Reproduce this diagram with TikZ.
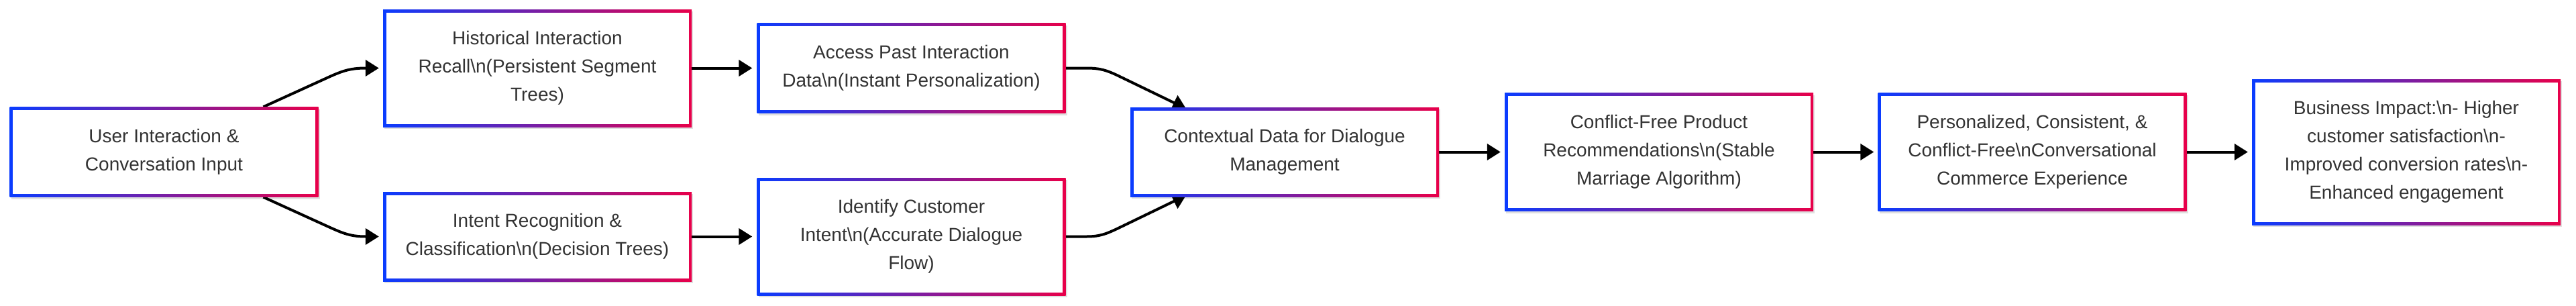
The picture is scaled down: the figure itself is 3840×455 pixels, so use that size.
\documentclass[tikz,border=0pt]{standalone}
\usepackage{fontspec}
\setmainfont{Liberation Sans}
\usetikzlibrary{arrows.meta,shadows}
\definecolor{gblue}{HTML}{0A3CFF}
\definecolor{gred}{HTML}{E8004A}
\definecolor{txtgray}{HTML}{333333}
\pgfdeclarelayer{back}
\pgfdeclarelayer{bg}
\pgfsetlayers{back,bg,main}
\tikzset{
  gbox/.style={rectangle, minimum width=460pt, left color=gblue, right color=gred,
    draw=none, inner sep=0pt, align=center, text=txtgray,
    font=\fontsize{28}{42}\selectfont,
    drop shadow={shadow xshift=2pt, shadow yshift=-3pt, opacity=0.12, fill=black},
    path picture={\fill[white] ([shift={(4.5pt,4.5pt)}]path picture bounding box.south west)
      rectangle ([shift={(-4.5pt,-4.5pt)}]path picture bounding box.north east);}},
  conn/.style={draw=black, line width=4pt, -{Triangle[length=20pt,width=24pt]}, line join=round},
}
\begin{document}
\begin{tikzpicture}[x=1pt,y=-1pt]
\begin{pgfonlayer}{back}
\fill[white] (0,0) rectangle (3840,455);
\end{pgfonlayer}
\useasboundingbox (0,0) rectangle (3840,455);
\node[gbox, minimum height=134pt] (A) at (244.5,226.5) {User Interaction \&\\Conversation Input};
\node[gbox, minimum height=175pt] (B) at (801,101.5) {Historical Interaction\\Recall\textbackslash n(Persistent Segment\\Trees)};
\node[gbox, minimum height=133pt] (C) at (801,352.5) {Intent Recognition \&\\Classification\textbackslash n(Decision Trees)};
\node[gbox, minimum height=134pt] (D) at (1358.5,101.5) {Access Past Interaction\\Data\textbackslash n(Instant Personalization)};
\node[gbox, minimum height=175pt] (E) at (1358.5,352.5) {Identify Customer\\Intent\textbackslash n(Accurate Dialogue\\Flow)};
\node[gbox, minimum height=133pt] (F) at (1915,226.5) {Contextual Data for Dialogue\\Management};
\node[gbox, minimum height=176pt] (G) at (2473,226.5) {Conflict-Free Product\\Recommendations\textbackslash n(Stable\\Marriage Algorithm)};
\node[gbox, minimum height=176pt] (H) at (3029.5,226.5) {Personalized, Consistent, \&\\Conflict-Free\textbackslash nConversational\\Commerce Experience};
\node[gbox, minimum height=217pt] (I) at (3587,226.5) {Business Impact:\textbackslash n- Higher\\customer satisfaction\textbackslash n-\\Improved conversion rates\textbackslash n-\\Enhanced engagement};
\begin{pgfonlayer}{bg}
\draw[conn] ([xshift=148pt]A.north) -- (492,114) .. controls (510,106) and (522,101.5) .. (545,101.5) -- ([xshift=-6pt]B.west);
\draw[conn] ([xshift=148pt]A.south) -- (492,339) .. controls (510,347) and (522,352.5) .. (545,352.5) -- ([xshift=-6pt]C.west);
\draw[conn] (B.east) -- ([xshift=-7pt]D.west);
\draw[conn] (C.east) -- ([xshift=-7pt]E.west);
\draw[conn] (D.east) -- (1620,101.5) .. controls (1640,101.5) and (1650,105) .. (1665,112) -- ([xshift=-147pt,yshift=-2pt]F.north);
\draw[conn] (E.east) -- (1620,352.5) .. controls (1640,352.5) and (1650,348) .. (1665,341) -- ([xshift=-147pt,yshift=2pt]F.south);
\draw[conn] (F.east) -- ([xshift=-6pt]G.west);
\draw[conn] (G.east) -- ([xshift=-6pt]H.west);
\draw[conn] (H.east) -- ([xshift=-6pt]I.west);
\end{pgfonlayer}
\end{tikzpicture}
\end{document}
